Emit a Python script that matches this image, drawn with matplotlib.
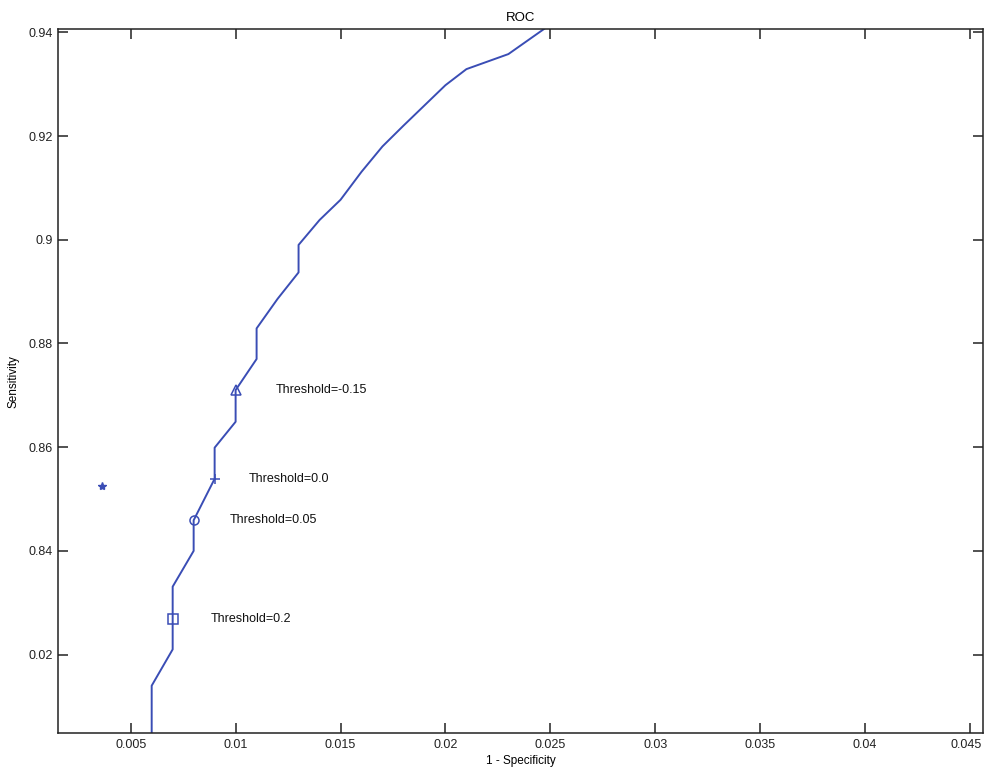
import matplotlib
matplotlib.use("Agg")
import matplotlib.pyplot as plt
import matplotlib.transforms as mtransforms

# ROC curve points (1 - specificity, sensitivity)
fpr = [0.006, 0.006, 0.007, 0.007, 0.008, 0.008, 0.009, 0.009, 0.010, 0.010,
       0.011, 0.011, 0.012, 0.013, 0.013, 0.014, 0.015, 0.016, 0.017, 0.018,
       0.019, 0.020, 0.021, 0.023, 0.025]
tpr = [0.800, 0.8140, 0.8210, 0.8331, 0.8400, 0.8459, 0.8539, 0.8599, 0.8649, 0.8710,
       0.8770, 0.8829, 0.8886, 0.8937, 0.8990, 0.9038, 0.9077, 0.9131, 0.9180, 0.9220,
       0.9259, 0.9298, 0.9329, 0.9358, 0.9415]

# threshold markers
thr_x = [0.010, 0.009, 0.008, 0.007]
thr_y = [0.8710, 0.8539, 0.8459, 0.8269]
thr_marker = ['^', '+', 'o', 's']
thr_text = ['Threshold=-0.15', 'Threshold=0.0', 'Threshold=0.05', 'Threshold=0.2']
text_x = [0.0119, 0.0106, 0.0097, 0.0088]

# single operating point
star_x = [0.00365]
star_y = [0.8526]

xticks = [0.005, 0.01, 0.015, 0.02, 0.025, 0.03, 0.035, 0.04, 0.045]
xtick_labels = ['0.005', '0.01', '0.015', '0.02', '0.025', '0.03', '0.035', '0.04', '0.045']
yticks = [0.82, 0.84, 0.86, 0.88, 0.90, 0.92, 0.94]
ytick_labels = ['0.02', '0.84', '0.86', '0.88', '0.9', '0.92', '0.94']

plt.rcParams['font.family'] = ['Liberation Sans', 'DejaVu Sans']
blue = '#3a4db5'

fig = plt.figure(figsize=(9.84, 7.67), dpi=100)
ax = fig.add_axes([58 / 984, 1 - 733.3 / 767, (983 - 58) / 984, (733.3 - 29.3) / 767])

ax.plot(fpr, tpr, color=blue, lw=1.4)
for x, y, m in zip(thr_x, thr_y, thr_marker):
    ax.plot([x], [y], marker=m, color=blue, mfc='none', ms=6.5, mew=1.1, ls='none')
for x, y, t in zip(text_x, thr_y, thr_text):
    ax.text(x, y, t, fontsize=9, va='center', ha='left', color='#111111')
ax.plot(star_x, star_y, marker='*', color=blue, ms=6, ls='none')

ax.set_xlim(0.001535, 0.04562)
ax.set_ylim(0.80482, 0.94058)
ax.set_xticks(xticks)
ax.set_xticklabels(xtick_labels)
ax.set_yticks(yticks)
ax.set_yticklabels(ytick_labels)
ax.tick_params(direction='in', length=7, width=1.1, top=True, right=True,
               labelsize=9, pad=4, colors='#222222')
for s in ax.spines.values():
    s.set_linewidth(1.1)
    s.set_color('#222222')

# last x label sits at the figure edge, nudge it left a bit
last = ax.get_xticklabels()[-1]
last.set_transform(last.get_transform() + mtransforms.ScaledTranslation(-4 / 100, 0, fig.dpi_scale_trans))

ax.set_title('ROC', fontsize=9.5, pad=6)
ax.set_xlabel('1 - Specificity', fontsize=8.5, labelpad=3)
ax.set_ylabel('Sensitivity', fontsize=8.5, labelpad=6)

fig.savefig('out.png', dpi=100)
